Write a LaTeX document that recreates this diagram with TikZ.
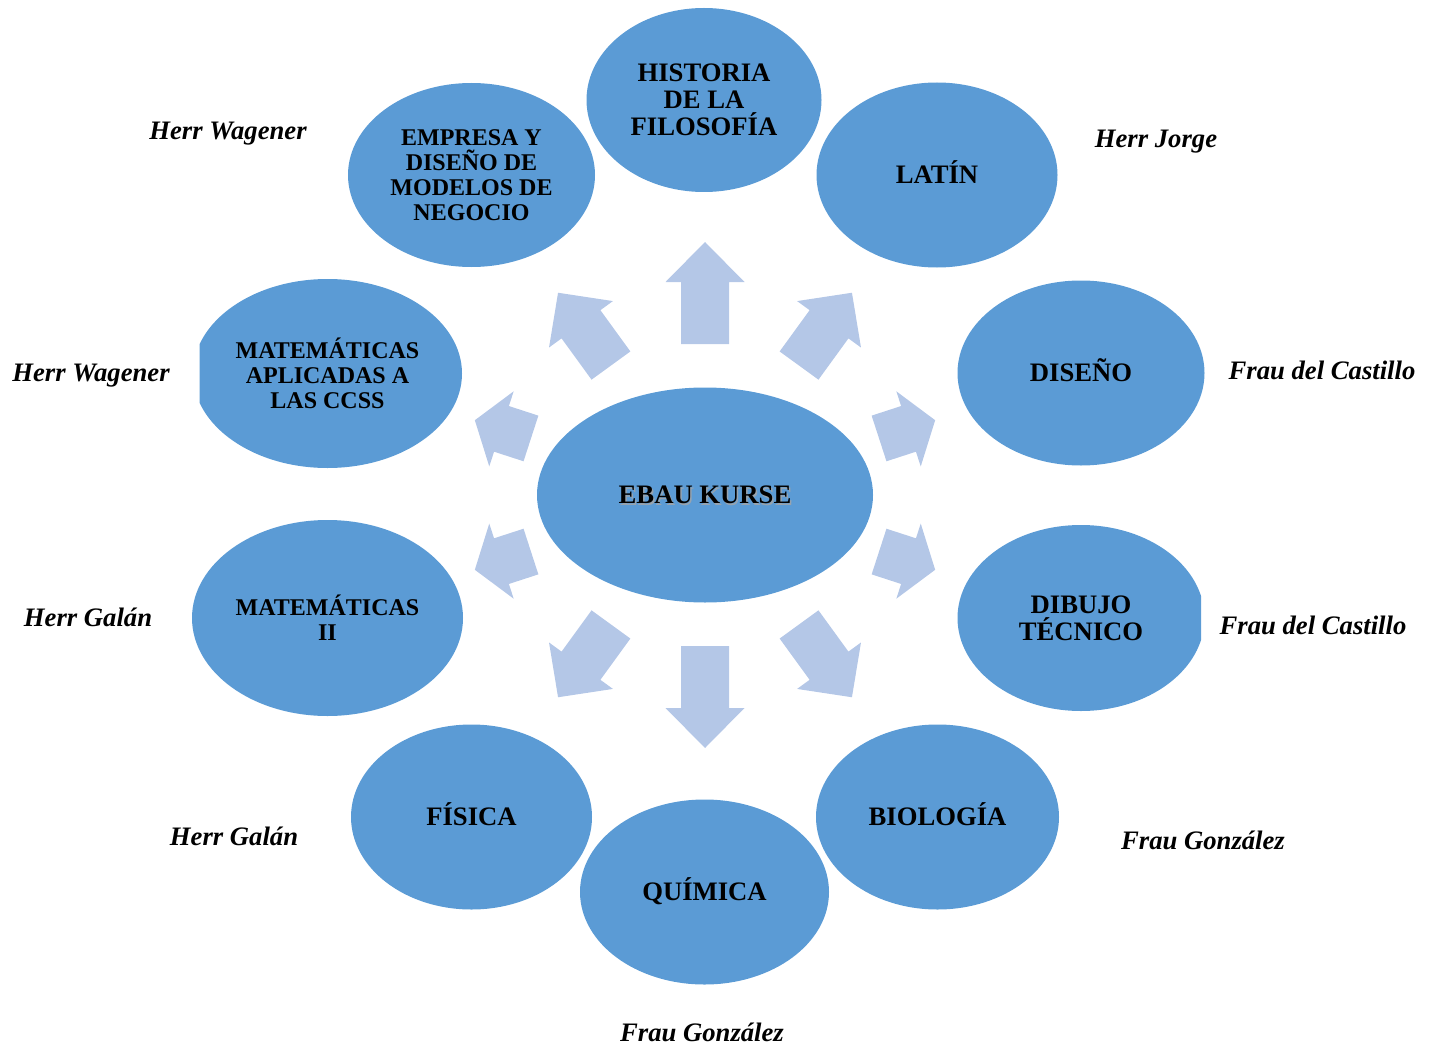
\documentclass[tikz,border=0pt]{standalone}
\usepackage{fontspec}
\setmainfont{Liberation Serif}
\usetikzlibrary{shapes.geometric}

\definecolor{coursefill}{RGB}{91,155,213}
\definecolor{arrowfill}{RGB}{180,199,231}

\tikzset{every picture/.style={line width=0.75pt}}
\tikzset{
	course/.style={ellipse, fill=coursefill, inner sep=0pt, align=center, text=black, font=\fontsize{20}{20.25}\selectfont\bfseries},
	coursesmall/.style={course, font=\fontsize{18}{18.75}\selectfont\bfseries},
	oneline/.style={text height=13.3pt, text depth=0pt},
	teacher/.style={anchor=base, font=\fontsize{20}{24}\selectfont\bfseries\itshape}
}

\begin{document}
\begin{tikzpicture}[x=0.75pt,y=0.75pt,yscale=-1,xscale=1]
	\useasboundingbox (0,0) rectangle (1431,1045);

	%Shape: Block Arrows
	\foreach \ang/\ra/\rb/\hl in {270/151/253/40, 90/151/253/40, 234/160/250/39, 306/160/250/39, 126/160/250/39, 54/160/250/39, 198/183/242/28, 342/183/242/28, 162/183/242/28, 18/183/242/28}
	{
		\begin{scope}[shift={(705,495)}, rotate=\ang]
			\fill [arrowfill] (\ra,-24) -- ({\rb-\hl},-24) -- ({\rb-\hl},-39.5) -- (\rb,0) -- ({\rb-\hl},39.5) -- ({\rb-\hl},24) -- (\ra,24) -- cycle ;
		\end{scope}
	}

	%Shape: Ellipse
	\node [course, minimum width=252pt, minimum height=161.25pt] (ebau) at (705,495) {};
	\node [course, oneline, fill=none, text=black!35, opacity=0.8] (ebaushadow) at (706.5,497) {EBAU KURSE};
	\node [course, oneline, fill=none] (ebautext) at (705,495) {EBAU KURSE};
	%Shape: Ellipse
	\node [course, minimum width=176.25pt, minimum height=138pt] (historia) at (704,100) {HISTORIA\\DE LA\\FILOSOFÍA};
	%Shape: Ellipse
	\node [course, oneline, minimum width=180.75pt, minimum height=138.75pt] (latin) at (937,175) {LATÍN};
	%Shape: Ellipse
	\node [course, oneline, minimum width=185.25pt, minimum height=138.75pt] (diseno) at (1081,373) {DISEÑO};
	%Shape: Ellipse
	\begin{scope}
		\clip (0,0) rectangle (1201,1045);
		\node [course, minimum width=185.25pt, minimum height=139.5pt] (dibujo) at (1081,618) {DIBUJO\\TÉCNICO};
	\end{scope}
	%Shape: Ellipse
	\node [course, oneline, minimum width=182.25pt, minimum height=138.75pt] (biologia) at (937.5,817) {BIOLOGÍA};
	%Shape: Ellipse
	\node [course, oneline, minimum width=186.75pt, minimum height=138.75pt] (quimica) at (704.5,892) {QUÍMICA};
	%Shape: Ellipse
	\node [course, oneline, minimum width=180.75pt, minimum height=138.75pt] (fisica) at (471.5,817) {FÍSICA};
	%Shape: Ellipse
	\node [coursesmall, minimum width=203.25pt, minimum height=147pt] (mateii) at (327.5,618) {MATEMÁTICAS\\II};
	%Shape: Ellipse
	\begin{scope}
		\clip (199.5,0) rectangle (1431,1045);
		\node [coursesmall, minimum width=201.75pt, minimum height=141.75pt] (mateccss) at (327.5,373.5) {MATEMÁTICAS\\APLICADAS A\\LAS CCSS};
	\end{scope}
	%Shape: Ellipse
	\node [coursesmall, minimum width=185.25pt, minimum height=138pt] (empresa) at (471.5,175) {EMPRESA Y\\DISEÑO DE\\MODELOS DE\\NEGOCIO};

	% Text Node
	\node [teacher] (tempresa) at (228,140) {Herr Wagener};
	% Text Node
	\node [teacher] (tlatin) at (1156,148) {Herr Jorge};
	% Text Node
	\node [teacher] (tmateccss) at (91,381) {Herr Wagener};
	% Text Node
	\node [teacher] (tdiseno) at (1322,379) {Frau del Castillo};
	% Text Node
	\node [teacher] (tmateii) at (88,626) {Herr Galán};
	% Text Node
	\node [teacher] (tdibujo) at (1313,634) {Frau del Castillo};
	% Text Node
	\node [teacher] (tfisica) at (234,845) {Herr Galán};
	% Text Node
	\node [teacher] (tbiologia) at (1203,849) {Frau González};
	% Text Node
	\node [teacher] (tquimica) at (702,1041) {Frau González};

\end{tikzpicture}
\end{document}
